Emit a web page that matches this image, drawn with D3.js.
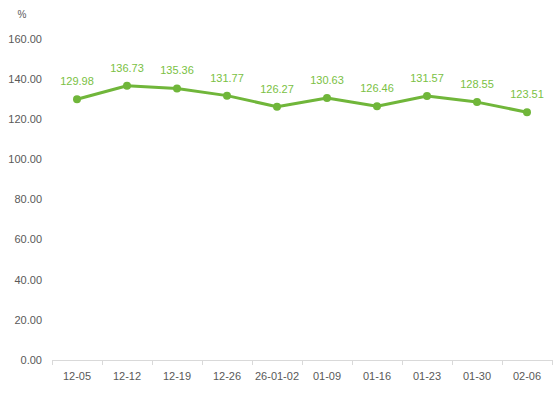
<!DOCTYPE html>
<html>
<head>
  <meta charset="utf-8">
  <title>Weekly ratio</title>
  <script src="https://d3js.org/d3.v7.min.js"></script>
  <style>
    body { margin: 0; background: #fff; }
    text { font-family: "Liberation Sans", Arial, sans-serif; }
  </style>
</head>
<body>
<svg width="554" height="393"></svg>
<script>
  // chart data
  const dates = ["12-05", "12-12", "12-19", "12-26", "26-01-02", "01-09", "01-16", "01-23", "01-30", "02-06"];
  const values = [129.98, 136.73, 135.36, 131.77, 126.27, 130.63, 126.46, 131.57, 128.55, 123.51];
  const yTicks = [0, 20, 40, 60, 80, 100, 120, 140, 160];

  const svg = d3.select("svg");
  const mLeft = 52, mRight = 552, mTop = 39, mBottom = 360;

  const x = d3.scaleBand().domain(dates).range([mLeft, mRight]);
  const y = d3.scaleLinear().domain([0, 160]).range([mBottom, mTop]);

  // y labels (no axis line)
  svg.append("g").selectAll("text")
    .data(yTicks).enter().append("text")
    .attr("x", 42)
    .attr("y", d => y(d))
    .attr("dy", "0.35em")
    .attr("text-anchor", "end")
    .attr("fill", "#595959")
    .style("font-size", "11px")
    .text(d => d.toFixed(2));

  svg.append("text")
    .attr("x", 22).attr("y", 18)
    .attr("text-anchor", "middle")
    .attr("fill", "#595959")
    .style("font-size", "10px")
    .text("%");

  // x axis
  const xAxis = svg.append("g")
    .attr("transform", `translate(0,${mBottom})`)
    .call(d3.axisBottom(x).tickSize(0).tickPadding(12));
  xAxis.select(".domain").attr("stroke", "#d9d9d9").attr("stroke-width", 1);
  xAxis.selectAll("text").attr("fill", "#595959").style("font-size", "11px")
    .style("font-family", "Liberation Sans, Arial, sans-serif");

  // tick marks at band boundaries
  const bounds = dates.map(d => x(d)).concat([mRight]);
  svg.append("g").selectAll("line")
    .data(bounds).enter().append("line")
    .attr("x1", d => Math.round(d) + 0.5).attr("x2", d => Math.round(d) + 0.5)
    .attr("y1", mBottom).attr("y2", mBottom + 5)
    .attr("stroke", "#d9d9d9");

  const cx = d => x(d) + x.bandwidth() / 2;

  // line
  const line = d3.line()
    .x((d, i) => cx(dates[i]))
    .y(d => y(d));

  svg.append("path")
    .datum(values)
    .attr("d", line)
    .attr("fill", "none")
    .attr("stroke", "#70b63a")
    .attr("stroke-width", 3)
    .attr("stroke-linejoin", "round");

  svg.append("g").selectAll("circle")
    .data(values).enter().append("circle")
    .attr("cx", (d, i) => cx(dates[i]))
    .attr("cy", d => y(d))
    .attr("r", 4)
    .attr("fill", "#70b63a");

  // data labels
  svg.append("g").selectAll("text")
    .data(values).enter().append("text")
    .attr("x", (d, i) => cx(dates[i]))
    .attr("y", d => y(d) - 14)
    .attr("text-anchor", "middle")
    .attr("fill", "#7ac143")
    .style("font-size", "11px")
    .text(d => d.toFixed(2));
</script>
</body>
</html>
